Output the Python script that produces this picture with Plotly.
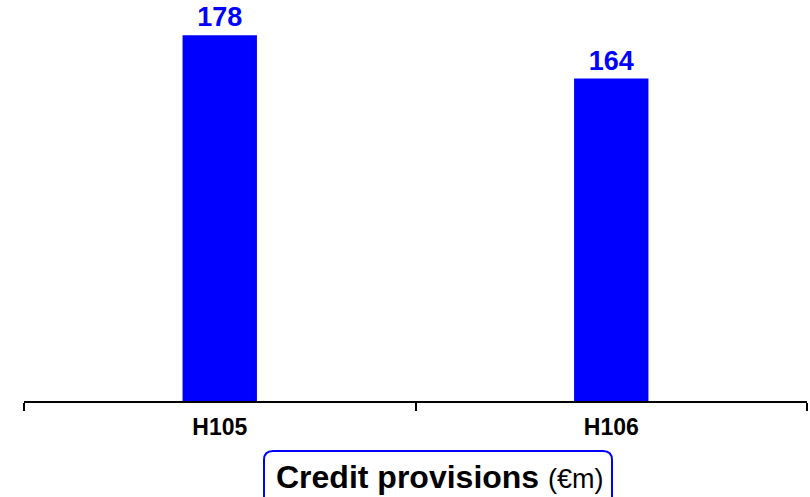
import plotly.graph_objects as go

categories = ["H105", "H106"]
values = [178, 164]
value_labels = ["178", "164"]
caption_main = "Credit provisions"
caption_unit = "(€m)"

W, H = 810, 497
L, R, T, B = 24, 3, 0, 96
pw, ph = W - L - R, H - T - B

FONT = "Arial, Liberation Sans, sans-serif"
BLUE = "#0000FF"

fig = go.Figure()
fig.add_trace(go.Bar(
    x=categories, y=values, width=0.19,
    marker=dict(color=BLUE, line=dict(width=0)),
    text=value_labels, textposition="outside",
    textfont=dict(family=FONT, size=27, color=BLUE, weight="bold"),
    cliponaxis=False,
))

def px_x(p):
    return (p - L) / pw

def px_y(p):
    return (H - B - p) / ph

# rounded caption box
x0, x1, y0, y1, r = 264, 612, 451, 520, 9
rx, ry = r / pw, r / ph
X0, X1, Y0, Y1 = px_x(x0), px_x(x1), px_y(y0), px_y(y1)
path = (f"M {X0+rx},{Y0} L {X1-rx},{Y0} Q {X1},{Y0} {X1},{Y0-ry} "
        f"L {X1},{Y1+ry} Q {X1},{Y1} {X1-rx},{Y1} L {X0+rx},{Y1} "
        f"Q {X0},{Y1} {X0},{Y1+ry} L {X0},{Y0-ry} Q {X0},{Y0} {X0+rx},{Y0} Z")
fig.add_shape(type="path", path=path, xref="paper", yref="paper",
              line=dict(color=BLUE, width=2), fillcolor="white", layer="above")

fig.add_annotation(
    x=px_x(440), y=px_y(477), xref="paper", yref="paper",
    text=f"<b>{caption_main}</b> <span style='font-size:27px'>{caption_unit}</span>",
    showarrow=False, font=dict(family=FONT, size=32, color="black"),
    xanchor="center", yanchor="middle",
)

fig.update_layout(
    width=W, height=H,
    margin=dict(l=L, r=R, t=T, b=B, pad=0),
    paper_bgcolor="white", plot_bgcolor="white",
    showlegend=False,
    xaxis=dict(
        type="category", range=[-0.5, 1.5],
        tickson="boundaries", ticks="outside", ticklen=8, tickwidth=2, tickcolor="black",
        showline=True, linecolor="black", linewidth=2,
        showgrid=False, zeroline=False,
        tickfont=dict(family=FONT, size=23, color="black", weight="bold"),
        ticklabelstandoff=4,
    ),
    yaxis=dict(range=[60, 60 + ph / 3.1], visible=False, showgrid=False, zeroline=False),
)

fig.write_html(
    "out.html",
    config={"displayModeBar": False},
    post_script="document.body.style.margin='0px';document.body.style.overflow='hidden';",
)
